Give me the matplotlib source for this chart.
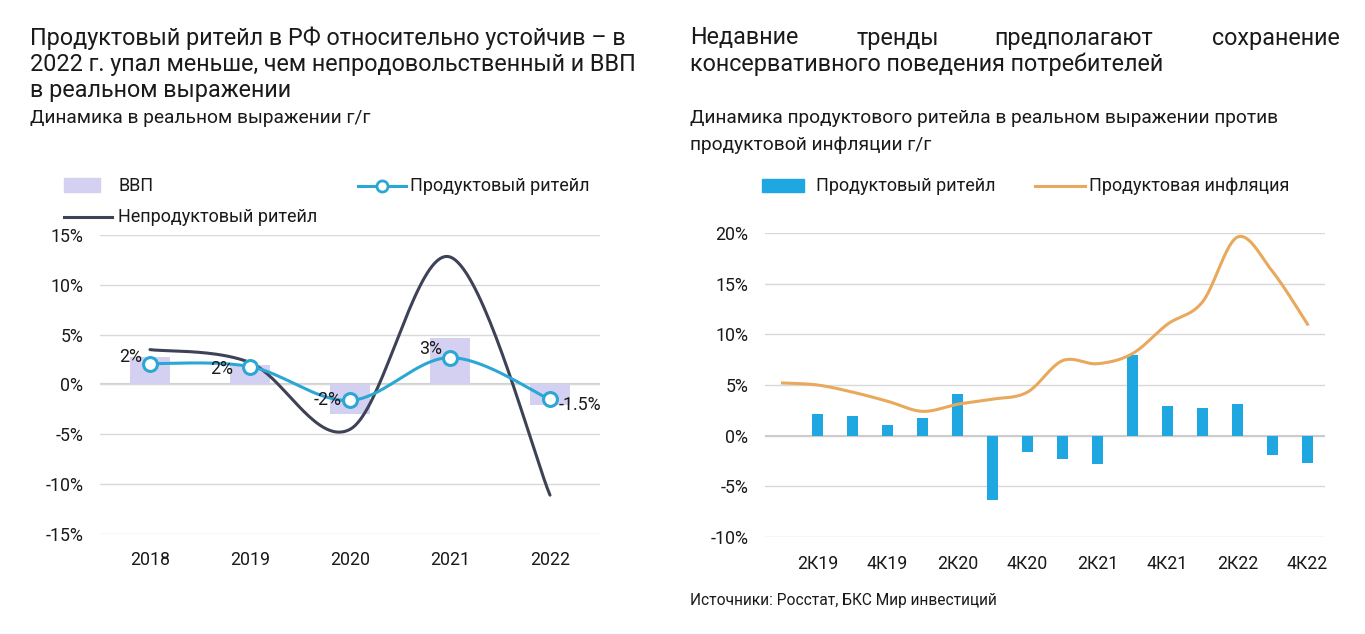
import numpy as np
import matplotlib
matplotlib.use("Agg")
import matplotlib.pyplot as plt
from matplotlib.patches import Rectangle
from matplotlib.lines import Line2D

plt.rcParams['font.family'] = ['Roboto', 'DejaVu Sans']

# ---------------- data: left chart ----------------
years = ['2018', '2019', '2020', '2021', '2022']
gdp = [2.8, 2.0, -3.0, 4.7, -2.1]
food_retail = [2.1, 1.8, -1.6, 2.7, -1.5]
food_labels = ['2%', '2%', '-2%', '3%', '-1.5%']
nonfood_retail = [3.5, 2.2, -4.5, 12.8, -11.1]

# ---------------- data: right chart ----------------
quarters = ['1К19', '2К19', '3К19', '4К19', '1К20', '2К20', '3К20', '4К20',
            '1К21', '2К21', '3К21', '4К21', '1К22', '2К22', '3К22', '4К22']
retail_q = [np.nan, 2.1, 1.9, 1.05, 1.75, 4.15, -6.3, -1.6,
            -2.35, -2.8, 8.0, 2.9, 2.7, 3.1, -1.9, -2.7]
food_infl = [5.2, 5.0, 4.3, 3.4, 2.4, 3.1, 3.6, 4.3,
             7.4, 7.1, 8.1, 11.0, 13.2, 19.6, 16.2, 11.0]

TXT = '#1a1a1a'
GRID = '#d9d9d9'
FS_TITLE = 16.8
FS_SUB = 13.8
FS_LEG = 13
FS_TICK = 12.8


def smooth(x, y, n=40):
    """Excel-like smoothed line (Catmull-Rom Bezier)."""
    x = np.asarray(x, float)
    y = np.asarray(y, float)
    px, py = [], []
    for i in range(len(x) - 1):
        x0, y0 = (x[i - 1], y[i - 1]) if i > 0 else (x[i], y[i])
        x1, y1 = x[i], y[i]
        x2, y2 = x[i + 1], y[i + 1]
        x3, y3 = (x[i + 2], y[i + 2]) if i + 2 < len(x) else (x[i + 1], y[i + 1])
        c1x, c1y = x1 + (x2 - x0) / 6, y1 + (y2 - y0) / 6
        c2x, c2y = x2 - (x3 - x1) / 6, y2 - (y3 - y1) / 6
        t = np.linspace(0, 1, n)
        bx = (1 - t) ** 3 * x1 + 3 * (1 - t) ** 2 * t * c1x + 3 * (1 - t) * t ** 2 * c2x + t ** 3 * x2
        by = (1 - t) ** 3 * y1 + 3 * (1 - t) ** 2 * t * c1y + 3 * (1 - t) * t ** 2 * c2y + t ** 3 * y2
        px.extend(bx)
        py.extend(by)
    return np.array(px), np.array(py)


W, H = 1365, 634
fig = plt.figure(figsize=(W / 100, H / 100), dpi=100)
fig.patch.set_facecolor('white')


def fx(px):
    return px / W


def fy(py):
    return 1 - py / H


# ================= LEFT CHART =================
axL = fig.add_axes([fx(100), fy(534), fx(500), (534 - 235) / H])
xl = np.arange(len(years))
axL.bar(xl, gdp, width=0.4, color='#d4d0f2', zorder=1)
sx, sy = smooth(xl, nonfood_retail)
axL.plot(sx, sy, color='#3d4257', lw=2.2, zorder=2, solid_capstyle='round')
sx, sy = smooth(xl, food_retail)
axL.plot(sx, sy, color='#2aa7d4', lw=2.2, zorder=3)
axL.plot(xl, food_retail, 'o', ms=10, mfc='white', mec='#2aa7d4', mew=2.2, zorder=4)
axL.set_xlim(-0.5, 4.5)
axL.set_ylim(-15, 15)
axL.set_yticks(np.arange(-15, 16, 5))
axL.set_yticklabels([f'{v}%' for v in range(-15, 16, 5)])
axL.set_xticks(xl)
axL.set_xticklabels(years)
axL.yaxis.grid(True, color=GRID, lw=1)
axL.set_axisbelow(True)
for s in axL.spines.values():
    s.set_visible(False)
axL.tick_params(length=0, labelsize=FS_TICK, colors=TXT, pad=12)
axL.tick_params(axis='x', pad=12)
axL.axhline(0, color='#d0d0d0', lw=1.5, zorder=0)

# data labels (offsets in points)
lab_off = [(-6, 5, 'right'), (-12, -2, 'right'), (-6, 0, 'right'), (-6, 6, 'right'), (6, -4, 'left')]
for i, (v, t) in enumerate(zip(food_retail, food_labels)):
    dx, dy, ha = lab_off[i]
    axL.annotate(t, (xl[i], v), xytext=(dx, dy), textcoords='offset points',
                 ha=ha, va='center', fontsize=FS_TICK, color=TXT, zorder=5)

# left titles
for i, line in enumerate(['Продуктовый ритейл в РФ относительно устойчив – в',
                          '2022 г. упал меньше, чем непродовольственный и ВВП',
                          'в реальном выражении']):
    fig.text(fx(30), fy(38 + i * 26.5), line, fontsize=FS_TITLE, color=TXT, va='center', ha='left')
fig.text(fx(30), fy(118), 'Динамика в реальном выражении г/г', fontsize=FS_SUB, color=TXT,
         va='center', ha='left')

# left legend
fig.add_artist(Rectangle((fx(64), fy(192)), fx(36), 14 / H, color='#d4d0f2', transform=fig.transFigure))
fig.text(fx(118), fy(186), 'ВВП', fontsize=FS_LEG, color=TXT, va='center')
fig.add_artist(Line2D([fx(358), fx(406)], [fy(186), fy(186)], color='#2aa7d4', lw=2.2, transform=fig.transFigure))
fig.add_artist(Line2D([fx(382)], [fy(186)], marker='o', ms=8, mfc='white', mec='#2aa7d4', mew=2,
                      transform=fig.transFigure))
fig.text(fx(410), fy(186), 'Продуктовый ритейл', fontsize=FS_LEG, color=TXT, va='center')
fig.add_artist(Line2D([fx(64), fx(112)], [fy(217), fy(217)], color='#3d4257', lw=2.2, transform=fig.transFigure))
fig.text(fx(118), fy(217), 'Непродуктовый ритейл', fontsize=FS_LEG, color=TXT, va='center')

# ================= RIGHT CHART =================
axR = fig.add_axes([fx(765), fy(537), fx(560), (537 - 233) / H])
xq = np.arange(len(quarters))
axR.bar(xq, retail_q, width=0.34, color='#1ea7e1', zorder=2)
sx, sy = smooth(xq, food_infl)
axR.plot(sx, sy, color='#e8a95c', lw=2.2, zorder=3)
axR.set_xlim(-0.5, 15.5)
axR.set_ylim(-10, 20)
axR.set_yticks(np.arange(-10, 21, 5))
axR.set_yticklabels([f'{v}%' for v in range(-10, 21, 5)])
axR.set_xticks(xq[1::2])
axR.set_xticklabels(quarters[1::2])
axR.yaxis.grid(True, color=GRID, lw=1)
axR.set_axisbelow(True)
for s in axR.spines.values():
    s.set_visible(False)
axR.tick_params(length=0, labelsize=FS_TICK, colors=TXT, pad=12)
axR.tick_params(axis='x', pad=13)
axR.axhline(0, color='#cccccc', lw=1.5, zorder=1)

# right titles (justified first line)
for word, x, ha in [('Недавние', 690, 'left'), ('тренды', 857, 'left'),
                    ('предполагают', 994, 'left'), ('сохранение', 1340, 'right')]:
    fig.text(fx(x), fy(38), word, fontsize=FS_TITLE, color=TXT, va='center', ha=ha)
fig.text(fx(690), fy(64), 'консервативного поведения потребителей', fontsize=FS_TITLE, color=TXT,
         va='center', ha='left')
fig.text(fx(690), fy(118), 'Динамика продуктового ритейла в реальном выражении против',
         fontsize=FS_SUB, color=TXT, va='center', ha='left')
fig.text(fx(690), fy(145), 'продуктовой инфляции г/г', fontsize=FS_SUB, color=TXT, va='center', ha='left')

# right legend
fig.add_artist(Rectangle((fx(762), fy(192)), fx(42), 13 / H, color='#1ea7e1', transform=fig.transFigure))
fig.text(fx(816), fy(186), 'Продуктовый ритейл', fontsize=FS_LEG, color=TXT, va='center')
fig.add_artist(Line2D([fx(1035), fx(1085)], [fy(186), fy(186)], color='#e8a95c', lw=2.2,
                      transform=fig.transFigure))
fig.text(fx(1089), fy(186), 'Продуктовая инфляция', fontsize=FS_LEG, color=TXT, va='center')

fig.text(fx(690), fy(601), 'Источники: Росстат, БКС Мир инвестиций', fontsize=11.2, color=TXT,
         va='center', ha='left')

fig.savefig('out.png', dpi=100, facecolor='white')
